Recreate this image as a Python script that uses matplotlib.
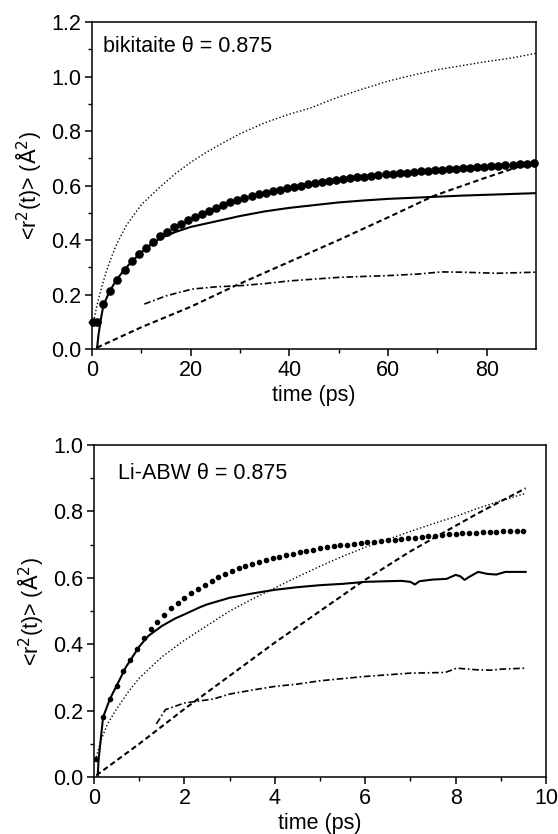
import numpy as np
import matplotlib
matplotlib.use('Agg')
import matplotlib.pyplot as plt

plt.rcParams['font.family'] = ['Liberation Sans', 'DejaVu Sans']
plt.rcParams['font.size'] = 15.5

# ---- bikitaite (top panel) ----
bik_dots_t = [0.3, 1.0] + list(np.round(2.3 + 1.43 * np.arange(62), 2))
bik_dots_r2 = [0.100, 0.100,
               0.165, 0.212, 0.255, 0.290, 0.323, 0.350, 0.372, 0.394, 0.414, 0.431,
               0.446, 0.460, 0.472, 0.485, 0.496, 0.507, 0.518, 0.528, 0.538, 0.547,
               0.555, 0.562, 0.568, 0.574, 0.579, 0.585, 0.590, 0.595, 0.600, 0.605,
               0.609, 0.613, 0.617, 0.621, 0.624, 0.627, 0.630, 0.633, 0.636, 0.639,
               0.641, 0.643, 0.645, 0.647, 0.650, 0.652, 0.654, 0.656, 0.658, 0.660,
               0.662, 0.664, 0.666, 0.668, 0.669, 0.671, 0.673, 0.675, 0.676, 0.678,
               0.680, 0.682]

bik_solid_t = [1.0, 1.3, 1.7, 2.3, 3.5, 5, 6.5, 8, 10, 12, 14, 17, 20, 25, 30, 35, 40,
               45, 50, 55, 60, 65, 70, 75, 80, 85, 90]
bik_solid_r2 = [0.0, 0.05, 0.10, 0.16, 0.21, 0.255, 0.29, 0.32, 0.355, 0.385, 0.408,
                0.43, 0.448, 0.468, 0.488, 0.505, 0.518, 0.528, 0.538, 0.545, 0.551,
                0.555, 0.559, 0.563, 0.566, 0.569, 0.572]

bik_dotted_t = [0.3, 1, 2, 3, 4, 5, 7, 10, 13.8, 17, 20, 23, 26.6, 30, 35, 40, 44.2,
                50, 55, 60, 65, 70, 75, 80, 85, 90]
bik_dotted_r2 = [0.10, 0.16, 0.23, 0.29, 0.34, 0.385, 0.455, 0.53, 0.595, 0.645, 0.685,
                 0.72, 0.757, 0.79, 0.83, 0.862, 0.884, 0.925, 0.955, 0.983, 1.005,
                 1.025, 1.04, 1.055, 1.068, 1.085]

bik_dashed_t = [1, 10, 20, 29, 40, 50, 60, 69.4, 80, 90]
bik_dashed_r2 = [0.005, 0.08, 0.155, 0.232, 0.32, 0.40, 0.483, 0.563, 0.63, 0.69]

bik_dashdot_t = [10.6, 15, 20.3, 25, 30.4, 35, 40, 50, 60.7, 66, 70.8, 75, 82, 90]
bik_dashdot_r2 = [0.165, 0.195, 0.22, 0.228, 0.233, 0.24, 0.25, 0.263, 0.27, 0.275,
                  0.283, 0.282, 0.278, 0.282]

# ---- Li-ABW (bottom panel) ----
abw_dots_t = list(np.round(0.05 + 0.15 * np.arange(64), 2))
abw_dots_r2 = [0.055, 0.180, 0.235, 0.275, 0.318, 0.352, 0.385, 0.418, 0.445, 0.468,
               0.488, 0.508, 0.524, 0.540, 0.553, 0.567, 0.580, 0.591, 0.602, 0.612,
               0.621, 0.629, 0.636, 0.642, 0.648, 0.654, 0.659, 0.664, 0.668, 0.673,
               0.677, 0.681, 0.685, 0.689, 0.692, 0.695, 0.698, 0.700, 0.703, 0.705,
               0.707, 0.709, 0.711, 0.713, 0.715, 0.717, 0.719, 0.721, 0.723, 0.725,
               0.727, 0.729, 0.731, 0.733, 0.734, 0.735, 0.736, 0.737, 0.738, 0.739,
               0.740, 0.740, 0.741, 0.741]

abw_solid_t = [0.08, 0.1, 0.2, 0.35, 0.5, 0.7, 0.9, 1.0, 1.2, 1.5, 1.8, 2.0, 2.35, 2.5,
               3.0, 3.5, 4.0, 4.5, 5.0, 5.5, 6.0, 6.5, 6.8, 7.0, 7.1, 7.2, 7.5, 7.8,
               8.0, 8.1, 8.2, 8.3, 8.5, 8.7, 8.9, 9.1, 9.3, 9.55]
abw_solid_r2 = [0.0, 0.05, 0.18, 0.235, 0.275, 0.33, 0.372, 0.393, 0.425, 0.455, 0.478,
                0.49, 0.512, 0.52, 0.54, 0.553, 0.564, 0.572, 0.578, 0.582, 0.588,
                0.59, 0.591, 0.588, 0.58, 0.59, 0.595, 0.597, 0.609, 0.605, 0.594,
                0.603, 0.618, 0.612, 0.61, 0.618, 0.618, 0.618]

abw_dotted_t = [0.05, 0.15, 0.3, 0.5, 0.75, 1.0, 1.5, 2.0, 2.35, 3.0, 3.5, 3.9, 4.5,
                5.0, 5.5, 6.0, 6.5, 7.0, 7.5, 8.0, 8.5, 9.0, 9.55]
abw_dotted_r2 = [0.06, 0.11, 0.16, 0.205, 0.255, 0.298, 0.362, 0.412, 0.443, 0.5, 0.536,
                 0.563, 0.603, 0.635, 0.665, 0.692, 0.716, 0.74, 0.763, 0.785, 0.81,
                 0.832, 0.855]

abw_dashed_t = [0.05, 1, 2, 2.33, 3, 4, 5, 5.95, 7, 7.7, 8.5, 9.55]
abw_dashed_r2 = [0.005, 0.10, 0.205, 0.238, 0.305, 0.405, 0.50, 0.59, 0.68, 0.734,
                 0.795, 0.87]

abw_dashdot_t = [1.38, 1.45, 1.58, 2.0, 2.64, 3.0, 3.5, 4.0, 4.5, 5.0, 6.0, 7.0, 7.77,
                 8.02, 8.48, 8.8, 9.0, 9.55]
abw_dashdot_r2 = [0.16, 0.175, 0.203, 0.223, 0.235, 0.25, 0.262, 0.273, 0.28, 0.29,
                  0.303, 0.313, 0.315, 0.328, 0.323, 0.322, 0.325, 0.328]

DOT = (0, (1, 1.6))
DASH = (0, (2.6, 1.6))
DASHDOT = (0, (4, 1.6, 1, 1.6))
FS = 15.5


def style_axes(ax, xmax, xmaj, ymax):
    ax.set_xlim(0, xmax)
    ax.set_ylim(0, ymax)
    ax.set_xticks(np.arange(0, xmax + 1e-9, xmaj))
    ax.set_xticks(np.arange(xmaj / 2, xmax, xmaj), minor=True)
    ax.set_yticks(np.arange(0, ymax + 1e-9, 0.2))
    ax.set_yticks(np.arange(0.1, ymax, 0.2), minor=True)
    ax.yaxis.set_major_formatter(plt.FormatStrFormatter('%.1f'))
    ax.tick_params(which='major', direction='out', length=5, width=1.1, labelsize=FS, pad=3)
    ax.tick_params(which='minor', direction='out', length=3, width=1.0)
    ax.tick_params(top=False, right=False)
    for s in ax.spines.values():
        s.set_linewidth(1.1)
    ax.set_xlabel('time (ps)', fontsize=FS, labelpad=3)
    ax.set_ylabel(r'<r$^2$(t)> ($\mathrm{\AA}^2$)', fontsize=FS, labelpad=5)


fig = plt.figure(figsize=(5.58, 8.34), dpi=100)

ax1 = fig.add_axes([0.1649, 0.5815, 0.7957, 0.3921])
ax1.plot(bik_dotted_t, bik_dotted_r2, color='black', lw=1.0, ls=DOT)
ax1.plot(bik_dashed_t, bik_dashed_r2, color='black', lw=1.5, ls=DASH)
ax1.plot(bik_dashdot_t, bik_dashdot_r2, color='black', lw=1.2, ls=DASHDOT)
ax1.plot(bik_solid_t, bik_solid_r2, color='black', lw=1.5)
ax1.plot(bik_dots_t, bik_dots_r2, 'o', color='black', ms=5.2, clip_on=False)
style_axes(ax1, 90, 20, 1.2)
ax1.text(0.025, 0.925, 'bikitaite \u03b8 = 0.875', transform=ax1.transAxes,
         fontsize=FS, va='center', ha='left')

ax2 = fig.add_axes([0.1685, 0.0683, 0.810, 0.398])
ax2.plot(abw_dotted_t, abw_dotted_r2, color='black', lw=1.0, ls=DOT)
ax2.plot(abw_dashed_t, abw_dashed_r2, color='black', lw=1.5, ls=DASH)
ax2.plot(abw_dashdot_t, abw_dashdot_r2, color='black', lw=1.2, ls=DASHDOT)
ax2.plot(abw_solid_t, abw_solid_r2, color='black', lw=1.5)
ax2.plot(abw_dots_t, abw_dots_r2, 'o', color='black', ms=3.0)
style_axes(ax2, 10, 2, 1.0)
ax2.text(0.052, 0.915, 'Li-ABW \u03b8 = 0.875', transform=ax2.transAxes,
         fontsize=FS, va='center', ha='left')

fig.savefig('out.png', dpi=100)
